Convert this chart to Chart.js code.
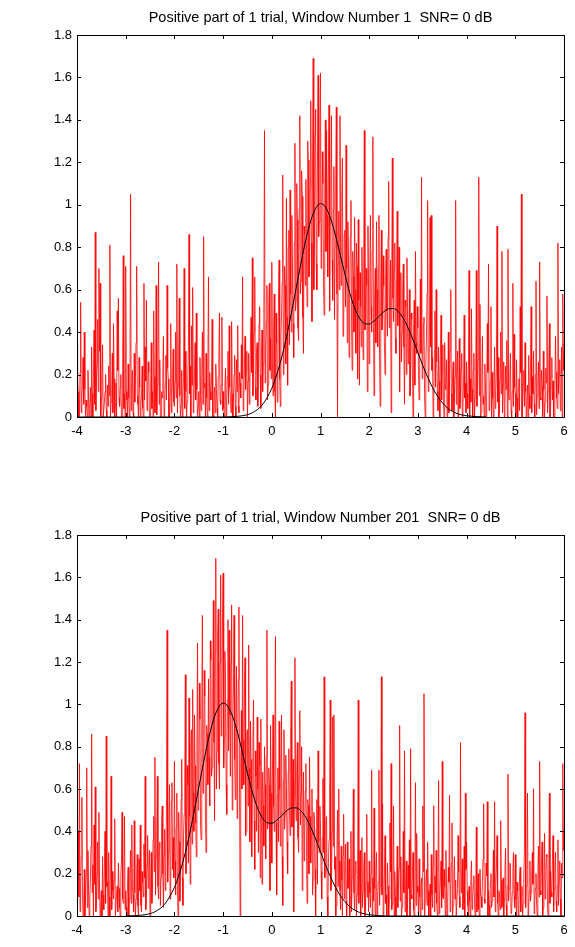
<!DOCTYPE html>
<html>
<head>
<meta charset="utf-8">
<script src="https://cdn.jsdelivr.net/npm/chart.js@4/dist/chart.umd.min.js"></script>
<style>
    body { margin: 0; background: #fff; }
    .plot { position: absolute; left: 0; width: 575px; }
    #plot-1 { top: 0; height: 460px; }
    #plot-2 { top: 500px; height: 447px; }
</style>
</head>
<body>
<div class="plot" id="plot-1"><canvas id="window-chart-1"></canvas></div>
<div class="plot" id="plot-2"><canvas id="window-chart-2"></canvas></div>
<script>
// sample grid of the trial: first sample time and spacing
const sample_start = -4;
const sample_step = 0.0125;

// positive part of the noisy trial (t = -4 .. 8, one line per half unit)
const trial_values = [
    0.35, 0.18, 0.12, 0, 0, 0.21, 0.54, 0.02, 0.10, 0.15, 0.28, 0.06, 0.40, 0.13, 0, 0.08, 0.05, 0, 0.22, 0.09, 0, 0.04, 0.14, 0, 0.33, 0.11, 0, 0.19, 0.41, 0.06, 0.87, 0.03, 0.18, 0.25, 0.46, 0.12, 0.70, 0.31, 0.63, 0,
    0.09, 0.17, 0.34, 0, 0, 0.07, 0.12, 0.20, 0.03, 0, 0.15, 0.05, 0.24, 0.10, 0.81, 0, 0.07, 0.13, 0.30, 0.02, 0.44, 0.18, 0, 0.06, 0.16, 0, 0.50, 0.22, 0.56, 0.09, 0.05, 0.14, 0.20, 0, 0, 0.27, 0.76, 0.04, 0.11, 0,
    0.71, 0.12, 0.08, 0, 0.25, 0.09, 0, 0.16, 1.05, 0.03, 0.14, 0.22, 0.02, 0, 0.30, 0.07, 0.19, 0.35, 0.71, 0.10, 0.06, 0, 0.28, 0.14, 0, 0.05, 0.11, 0.24, 0.04, 0, 0.63, 0.08, 0.33, 0.17, 0.55, 0.03, 0.08, 0.26, 0.21, 0,
    0, 0.13, 0.35, 0.04, 0.12, 0, 0.50, 0.19, 0.02, 0.09, 0.62, 0.01, 0.15, 0.30, 0.73, 0.06, 0.27, 0, 0, 0.12, 0.09, 0.21, 0.38, 0, 0.05, 0.16, 0.29, 0.08, 0.62, 0.23, 0.18, 0, 0, 0.11, 0.44, 0.02, 0.10, 0.20, 0.32, 0.07,
    0.05, 0.17, 0.40, 0.09, 0.72, 0.02, 0.14, 0.28, 0.56, 0.10, 0, 0.06, 0.22, 0, 0.09, 0.19, 0.70, 0.04, 0.31, 0.12, 0, 0.07, 0.18, 0.33, 0.86, 0.11, 0.24, 0, 0.43, 0.15, 0.61, 0.02, 0.07, 0.20, 0.35, 0.08, 0.49, 0.13, 0, 0.05,
    0.12, 0, 0.28, 0.10, 0.03, 0.22, 0.40, 0.06, 0.85, 0.14, 0.16, 0, 0.30, 0.09, 0, 0.24, 0.66, 0.03, 0.21, 0.12, 0.08, 0.17, 0.46, 0, 0, 0.10, 0.14, 0.02, 0.25, 0.13, 0.04, 0, 0.19, 0.26, 0.49, 0.08, 0.06, 0.15, 0.47, 0.03,
    0.12, 0.04, 0, 0.15, 0.23, 0, 0.08, 0.19, 0.31, 0.06, 0.43, 0.14, 0.10, 0.02, 0.45, 0.11, 0, 0.08, 0.20, 0.29, 0.05, 0, 0.27, 0.12, 0.43, 0.05, 0.02, 0.21, 0.16, 0.09, 0.34, 0.18, 0.66, 0.03, 0.09, 0.24, 0.38, 0.13, 0.22, 0.31,
    0, 0.17, 0.30, 0.06, 0.13, 0.36, 0.47, 0.21, 0.75, 0.10, 0.28, 0.40, 0.66, 0.14, 0.08, 0.32, 0.35, 0.05, 0.18, 0.44, 0.52, 0.20, 0.04, 0.29, 0.41, 0.12, 0.25, 0.50, 1.35, 0.16, 0.30, 0.45, 0.62, 0.08, 0.15, 0.54, 0.63, 0.22, 0.37, 0.18,
    0.73, 0.26, 0.10, 0.42, 0.58, 0.12, 0, 0.49, 0.35, 0.07, 0.22, 0.55, 0.74, 0.18, 0.05, 0.38, 0.48, 0.63, 1.14, 0.20, 0.30, 0.71, 0.62, 0.25, 1.03, 0.47, 0.15, 0.80, 0.88, 0.34, 1.07, 0.58, 0.40, 0.95, 0.71, 0.44, 0.28, 0.82, 1.29, 0.50,
    0.55, 1.10, 0.93, 0.42, 0.36, 0.98, 1.42, 0.58, 0.64, 1.16, 1.04, 0.47, 0.30, 0.90, 0.86, 0.62, 1.12, 0.75, 0.52, 1.30, 1.21, 0.66, 0.70, 1.08, 1.49, 0.82, 0.45, 1.25, 1.69, 0.60, 0.78, 1.33, 1.45, 0.72, 0.60, 1.20, 1.61, 0.85, 0.92, 1.38,
    1.62, 0.70, 0.85, 1.25, 1.10, 0.62, 0.48, 1.02, 1.40, 0.78, 1.35, 0.95, 0.66, 1.20, 1.47, 0.50, 0.92, 1.08, 1.42, 0.74, 0.55, 0.98, 1.18, 0.46, 0.80, 1.12, 1.46, 0.58, 0, 0.72, 0.97, 0.60, 1.42, 0.83, 0.62, 1.05, 1.22, 0.38, 0.40, 0.86,
    0.88, 0.52, 1.28, 0.70, 0.35, 0.92, 0.74, 0.28, 0.58, 0.85, 1.02, 0.45, 0.22, 0.78, 0.66, 0.40, 0.94, 0.60, 0.30, 0.82, 0.71, 0.18, 0.93, 0.55, 0.15, 0.68, 0.52, 0.33, 0.80, 0.62, 0.27, 0.75, 1.35, 0.41, 0.44, 0.70, 0.62, 0.12, 0.90, 0.58,
    0.25, 0.66, 0.95, 0.52, 0.40, 0.78, 1.32, 0.44, 0.10, 0.57, 0.70, 0.35, 0.92, 0.60, 0.33, 0.71, 0.95, 0.28, 0.05, 0.64, 0.88, 0.41, 0.48, 0.76, 0.62, 0.35, 0.20, 0.68, 0.79, 0.50, 0.38, 0.85, 1.11, 0.42, 0.55, 0.74, 0.02, 0.63, 1.22, 0.56,
    0.45, 0.70, 0.82, 0.37, 0.30, 0.66, 0.97, 0.43, 0.58, 0.80, 0.12, 0.48, 0.68, 0.26, 0.40, 0.59, 0.72, 0.33, 0.06, 0.55, 0.52, 0.20, 0.75, 0.47, 0.25, 0.38, 0.60, 0.10, 0.18, 0.49, 0.46, 0.22, 0, 0.41, 0.55, 0.15, 0.78, 0.35, 0.30, 0.52,
    0.42, 0.21, 0.08, 0.37, 0.65, 0.30, 1.13, 0.18, 0.20, 0.44, 0.47, 0.09, 0, 0.25, 0.36, 0.58, 1.02, 0.12, 0.15, 0.40, 0.94, 0.33, 0.95, 0.22, 0.28, 0, 0.05, 0.31, 0.50, 0.14, 0.60, 0.26, 0.12, 0.03, 0.33, 0.17, 0, 0.29, 0.48, 0.08,
    0.22, 0.34, 0.07, 0, 0.35, 0.13, 0.15, 0.27, 0, 0.09, 0.40, 0.02, 0.18, 0.32, 0.60, 0.11, 0.03, 0.20, 0.26, 0, 0.10, 0.19, 1.02, 0.06, 0.20, 0.31, 0, 0.14, 0.37, 0.04, 0.12, 0.23, 0.30, 0, 0.05, 0.16, 0.48, 0.09, 0.16, 0.02,
    0.26, 0.11, 0.04, 0.20, 0.69, 0, 0.18, 0.07, 0.51, 0.13, 0, 0.22, 0.30, 0, 0.09, 0.16, 0.69, 0.05, 0.14, 0.27, 1.13, 0.10, 0.53, 0, 0.02, 0.19, 0.38, 0.06, 0.10, 0, 0.25, 0.14, 0, 0.08, 0.44, 0.21, 0.72, 0.03, 0.06, 0.17,
    0.52, 0, 0.21, 0.09, 0, 0.15, 0.33, 0.04, 0.12, 0.23, 0.90, 0.07, 0.28, 0, 0.04, 0.18, 0.40, 0.11, 0.78, 0.02, 0.15, 0.26, 0, 0.06, 0.24, 0.13, 0.36, 0, 0.79, 0.10, 0.08, 0.20, 0.30, 0.03, 0, 0.12, 0.63, 0.05, 0.39, 0.14,
    0.11, 0, 0.27, 0.09, 0, 0.14, 0.18, 0.03, 0.52, 0.21, 1.05, 0, 0.07, 0.16, 0.22, 0.05, 0.35, 0.12, 0, 0.08, 0.15, 0, 0.29, 0.10, 0.04, 0.24, 0.52, 0.02, 0.19, 0.11, 0.31, 0.06, 0, 0.20, 0.64, 0.01, 0.10, 0.18, 0.26, 0.04,
    0.73, 0.09, 0.08, 0.22, 0.14, 0, 0.31, 0.13, 0, 0.07, 0.23, 0.16, 0.57, 0.02, 0.12, 0.25, 0.44, 0, 0.05, 0.19, 0.28, 0.08, 0.17, 0, 0, 0.13, 0.38, 0.21, 0.09, 0.04, 0.82, 0.11, 0.20, 0.27, 0.03, 0.10, 0.33, 0, 0.58, 0.22,
    0.35, 0.12, 0.05, 0, 0.14, 0.07, 0, 0.18, 0.26, 0.03, 0.08, 0.15, 0.19, 0.06, 0, 0.11, 0.42, 0.02, 0.11, 0.20, 0.03, 0, 0.22, 0.10, 0.09, 0.04, 0.17, 0.27, 0.53, 0.08, 0.06, 0.13, 0.25, 0.19, 0.54, 0, 0.12, 0.05, 0, 0.16,
    0.20, 0.04, 0.07, 0.14, 0.31, 0.09, 0.54, 0.02, 0.15, 0.23, 0.38, 0.06, 0, 0.12, 0.10, 0.03, 0.45, 0.17, 0.04, 0.09, 0.18, 0, 0.08, 0.21, 0.32, 0.05, 0, 0.14, 0.67, 0.07, 0.13, 0.25, 0.24, 0.01, 0.02, 0.11, 0.21, 0.30, 0.09, 0.04,
    0.29, 0.08, 0, 0.16, 0.12, 0, 0.05, 0.19, 0.23, 0.02, 0.10, 0.14, 0, 0.06, 0.18, 0.31, 0.96, 0.04, 0.14, 0.22, 0.58, 0, 0.03, 0.12, 0.26, 0.07, 0.11, 0.20, 0.30, 0.15, 0.60, 0.01, 0.07, 0.13, 0.20, 0.05, 0, 0.17, 0.33, 0.09,
    0.73, 0.12, 0.10, 0.24, 0.35, 0, 0.04, 0.16, 0.39, 0.08, 0.15, 0.29, 0.28, 0.03, 0, 0.19, 0.58, 0.06, 0.21, 0.11, 0.09, 0.27, 0.38, 0.02, 0.13, 0.22, 0.30, 0.07, 0.02, 0.14, 0.36, 0.05, 0.17, 0.26, 0.08, 0, 0.25, 0.18, 0.72, 0.31,
    0.40
];

// clean template (black curve)
const template_t = [-4, -1.0, -0.8, -0.6, -0.4, -0.2, 0.0, 0.1, 0.2, 0.3, 0.4, 0.5, 0.6, 0.7, 0.8, 0.9, 1.0, 1.1, 1.2, 1.3, 1.4, 1.5, 1.6, 1.7, 1.8, 1.9, 2.0,
    2.1, 2.2, 2.3, 2.4, 2.5, 2.6, 2.7, 2.8, 2.9, 3.0, 3.1, 3.2, 3.3, 3.4, 3.5, 3.6, 3.7, 3.8, 3.9, 4.0, 4.2, 4.4, 8];
const template_values = [0, 0, 0.002, 0.006, 0.020, 0.056, 0.135, 0.198, 0.278, 0.375, 0.487, 0.607, 0.726, 0.836, 0.925, 0.983, 1.006, 0.990, 0.940, 0.863, 0.770, 0.675, 0.586, 0.514, 0.466, 0.441, 0.438,
    0.452, 0.474, 0.496, 0.510, 0.511, 0.496, 0.465, 0.419, 0.364, 0.303, 0.243, 0.188, 0.139, 0.099, 0.068, 0.044, 0.028, 0.017, 0.010, 0.006, 0.002, 0, 0];

const window_numbers = [1, 201];
const window_shifts = [0, -2];

const x_min = -4, x_max = 6;
const y_min = 0, y_max = 1.8;

const font_family = '"Liberation Sans", Arial, Helvetica, sans-serif';

// matlab style box with inward ticks
const box_plugin = {
    id: 'box',
    afterDraw(chart) {
        const ctx = chart.ctx;
        const area = chart.chartArea;
        const xs = chart.scales.x;
        const ys = chart.scales.y;
        const len = 4;
        ctx.save();
        ctx.strokeStyle = '#000';
        ctx.lineWidth = 1;
        ctx.beginPath();
        ctx.rect(Math.round(area.left) + 0.5, Math.round(area.top) + 0.5,
            Math.round(area.right - area.left), Math.round(area.bottom - area.top));
        xs.ticks.forEach(t => {
            const px = Math.round(xs.getPixelForValue(t.value)) + 0.5;
            ctx.moveTo(px, area.bottom);
            ctx.lineTo(px, area.bottom - len);
            ctx.moveTo(px, area.top);
            ctx.lineTo(px, area.top + len);
        });
        ys.ticks.forEach(t => {
            const py = Math.round(ys.getPixelForValue(t.value)) + 0.5;
            ctx.moveTo(area.left, py);
            ctx.lineTo(area.left + len, py);
            ctx.moveTo(area.right, py);
            ctx.lineTo(area.right - len, py);
        });
        ctx.stroke();
        ctx.restore();
    }
};

function points_for(times, values, shift) {
    let pts = [];
    for (let i = 0; i < values.length; i++) {
        let x = times[i] + shift;
        if (x >= x_min - 1e-9 && x <= x_max + 1e-9) pts.push({ x: x, y: values[i] });
    }
    return pts;
}

function make_chart(canvas_id, window_number, shift, x_axis_height) {
    const trial_t = trial_values.map((v, i) => sample_start + i * sample_step);
    return new Chart(document.getElementById(canvas_id), {
        type: 'line',
        data: {
            datasets: [
                {
                    data: points_for(template_t, template_values, shift),
                    borderColor: '#000',
                    borderWidth: 1,
                    pointRadius: 0,
                    cubicInterpolationMode: 'monotone'
                },
                {
                    data: points_for(trial_t, trial_values, shift),
                    borderColor: '#ff0000',
                    borderWidth: 0.8,
                    pointRadius: 0,
                    tension: 0
                }
            ]
        },
        options: {
            responsive: true,
            maintainAspectRatio: false,
            animation: false,
            layout: { padding: { left: 0, right: 11, top: 0, bottom: 0 } },
            plugins: {
                legend: { display: false },
                tooltip: { enabled: false },
                title: {
                    display: true,
                    fullSize: false,
                    text: 'Positive part of 1 trial, Window Number ' + window_number + '  SNR= 0 dB',
                    color: '#000',
                    font: { family: font_family, size: 14.5, weight: 'normal', lineHeight: 1.2 },
                    padding: { top: 9, bottom: 8.6 }
                }
            },
            scales: {
                x: {
                    type: 'linear',
                    min: x_min,
                    max: x_max,
                    grid: { display: false, drawTicks: false },
                    border: { display: false },
                    ticks: { stepSize: 1, color: '#000', padding: 7, maxRotation: 0, font: { family: font_family, size: 13 } },
                    afterFit: scale => { scale.height = x_axis_height; }
                },
                y: {
                    min: y_min,
                    max: y_max,
                    grid: { display: false, drawTicks: false },
                    border: { display: false },
                    ticks: {
                        stepSize: 0.2, color: '#000', padding: 5, font: { family: font_family, size: 13 },
                        callback: v => String(Math.round(v * 10) / 10)
                    },
                    afterFit: scale => { scale.width = 77; }
                }
            }
        },
        plugins: [box_plugin]
    });
}

onload = () => {
    make_chart('window-chart-1', window_numbers[0], window_shifts[0], 43);
    make_chart('window-chart-2', window_numbers[1], window_shifts[1], 31);
};
</script>
</body>
</html>
